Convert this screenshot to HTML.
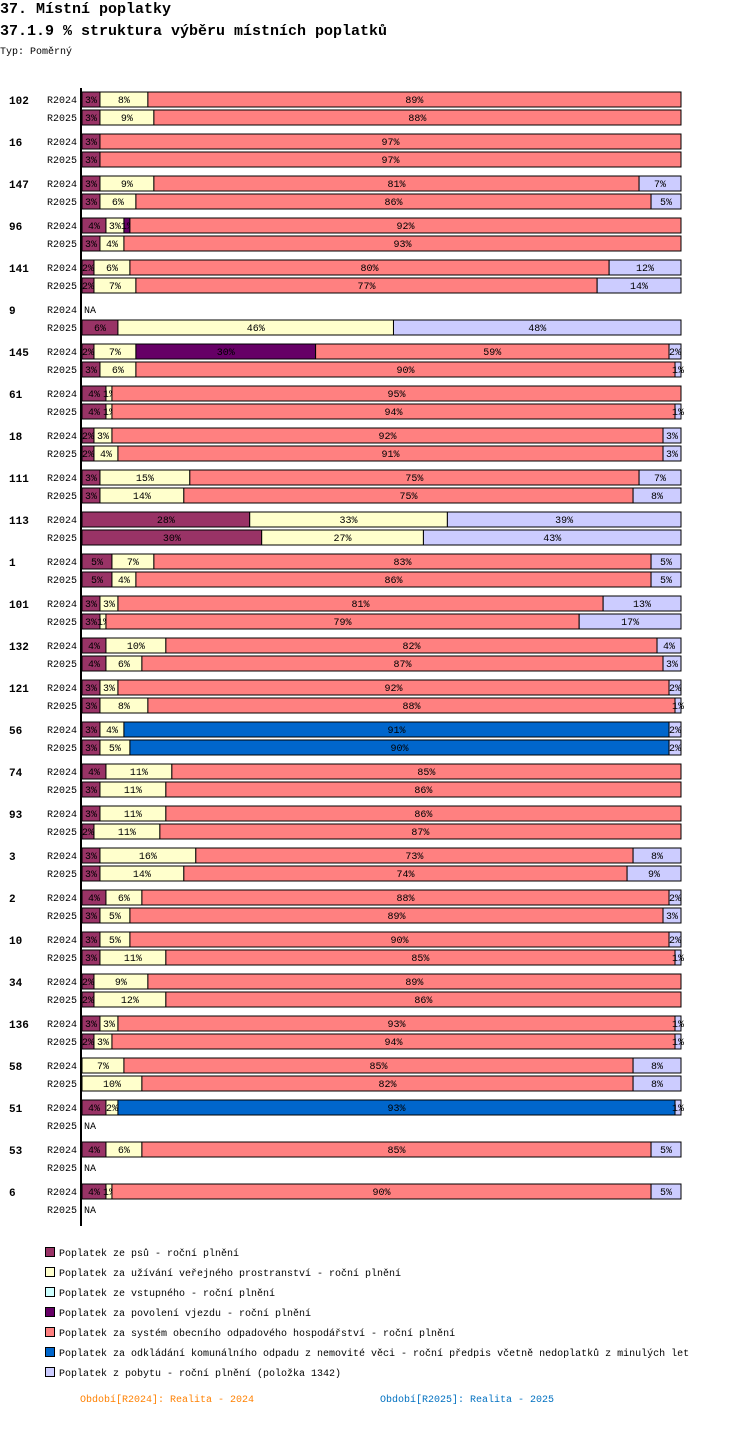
<!DOCTYPE html>
<html><head><meta charset="utf-8"><style>
body{margin:0;background:#fff;font-family:"Liberation Mono",monospace;}
svg text{font-family:"Liberation Mono","DejaVu Sans Mono",monospace;}
</style></head><body>
<svg id="c" width="750" height="1436" xmlns="http://www.w3.org/2000/svg">
<text x="0" y="13" font-size="15" font-weight="bold">37. Místní poplatky</text>
<text x="0" y="35" font-size="15" font-weight="bold">37.1.9 % struktura výběru místních poplatků</text>
<text x="0" y="54" font-size="10">Typ: Poměrný</text>
<line x1="81" y1="88" x2="81" y2="1226" stroke="#000" stroke-width="2"/>
<g id="bars"></g>
<g id="legend"></g>
<text x="80" y="1402" font-size="10" fill="#ff8000">Období[R2024]: Realita - 2024</text>
<text x="380" y="1402" font-size="10" fill="#0070c0">Období[R2025]: Realita - 2025</text>
</svg>
<script>
const series = ["Poplatek ze psů - roční plnění","Poplatek za užívání veřejného prostranství - roční plnění","Poplatek ze vstupného - roční plnění","Poplatek za povolení vjezdu - roční plnění","Poplatek za systém obecního odpadového hospodářství - roční plnění","Poplatek za odkládání komunálního odpadu z nemovité věci - roční předpis včetně nedoplatků z minulých let","Poplatek z pobytu - roční plnění (položka 1342)"];
const colors = ["#993366","#ffffcc","#ccffff","#660066","#ff8080","#0066cc","#ccccff"];
const groups = ["102","16","147","96","141","9","145","61","18","111","113","1","101","132","121","56","74","93","3","2","10","34","136","58","51","53","6"];
const periods = ["R2024","R2025"];
const r2024 = [[3,8,0,0,89,0,0],[3,0,0,0,97,0,0],[3,9,0,0,81,0,7],[4,3,0,1,92,0,0],[2,6,0,0,80,0,12],null,[2,7,0,30,59,0,2],[4,1,0,0,95,0,0],[2,3,0,0,92,0,3],[3,15,0,0,75,0,7],[28,33,0,0,0,0,39],[5,7,0,0,83,0,5],[3,3,0,0,81,0,13],[4,10,0,0,82,0,4],[3,3,0,0,92,0,2],[3,4,0,0,0,91,2],[4,11,0,0,85,0,0],[3,11,0,0,86,0,0],[3,16,0,0,73,0,8],[4,6,0,0,88,0,2],[3,5,0,0,90,0,2],[2,9,0,0,89,0,0],[3,3,0,0,93,0,1],[0,7,0,0,85,0,8],[4,2,0,0,0,93,1],[4,6,0,0,85,0,5],[4,1,0,0,90,0,5]];
const r2025 = [[3,9,0,0,88,0,0],[3,0,0,0,97,0,0],[3,6,0,0,86,0,5],[3,4,0,0,93,0,0],[2,7,0,0,77,0,14],[6,46,0,0,0,0,48],[3,6,0,0,90,0,1],[4,1,0,0,94,0,1],[2,4,0,0,91,0,3],[3,14,0,0,75,0,8],[30,27,0,0,0,0,43],[5,4,0,0,86,0,5],[3,1,0,0,79,0,17],[4,6,0,0,87,0,3],[3,8,0,0,88,0,1],[3,5,0,0,0,90,2],[3,11,0,0,86,0,0],[2,11,0,0,87,0,0],[3,14,0,0,74,0,9],[3,5,0,0,89,0,3],[3,11,0,0,85,0,1],[2,12,0,0,86,0,0],[2,3,0,0,94,0,1],[0,10,0,0,82,0,8],null,null,null];

const NS="http://www.w3.org/2000/svg";
const X0=82, W=599, Y0=92, GP=42, RP=18, BH=15;
const xs = v => v/100*W;
function mk(t,a,p){const e=document.createElementNS(NS,t);for(const k in a)e.setAttribute(k,a[k]);p.appendChild(e);return e;}
const bars=document.getElementById('bars');
groups.forEach((g,gi)=>{
  const gy=Y0+gi*GP;
  const gl=mk('text',{x:9,y:gy+12,'font-size':11,'font-weight':'bold'},bars);gl.textContent=g;
  
  
  [r2024,r2025].forEach((data,pi)=>{
    const y=gy+pi*RP;
    const pl=mk('text',{x:47,y:y+11,'font-size':10},bars);pl.textContent=periods[pi];
    
    
    const row=data[gi];
    if(!row){const na=mk('text',{x:84,y:y+11,'font-size':10},bars);na.textContent='NA';
      
      return;}
    const tot=row.reduce((a,b)=>a+b,0);
    let acc=0;
    row.forEach((v,si)=>{
      if(!v)return;
      const x=X0+xs(acc/tot*100), w=xs(v/tot*100);
      const r=mk('rect',{x:x,y:y,width:w,height:BH,fill:colors[si],stroke:'#000','stroke-width':1},bars);
      
      
      const t=mk('text',{x:x+w/2,y:y+11,'font-size':10,'text-anchor':'middle'},bars);t.textContent=v+'%';
      
      
      acc+=v;
    });
  });
});
const lg=document.getElementById('legend');
series.forEach((s,i)=>{
  const y=1247+i*20;
  const r=mk('rect',{x:45.5,y:y+0.5,width:9,height:9,fill:colors[i],stroke:'#000'},lg);
  
  
  const t=mk('text',{x:59,y:y+9,'font-size':10},lg);t.textContent=s;
  
  
});
</script>
</body></html>
